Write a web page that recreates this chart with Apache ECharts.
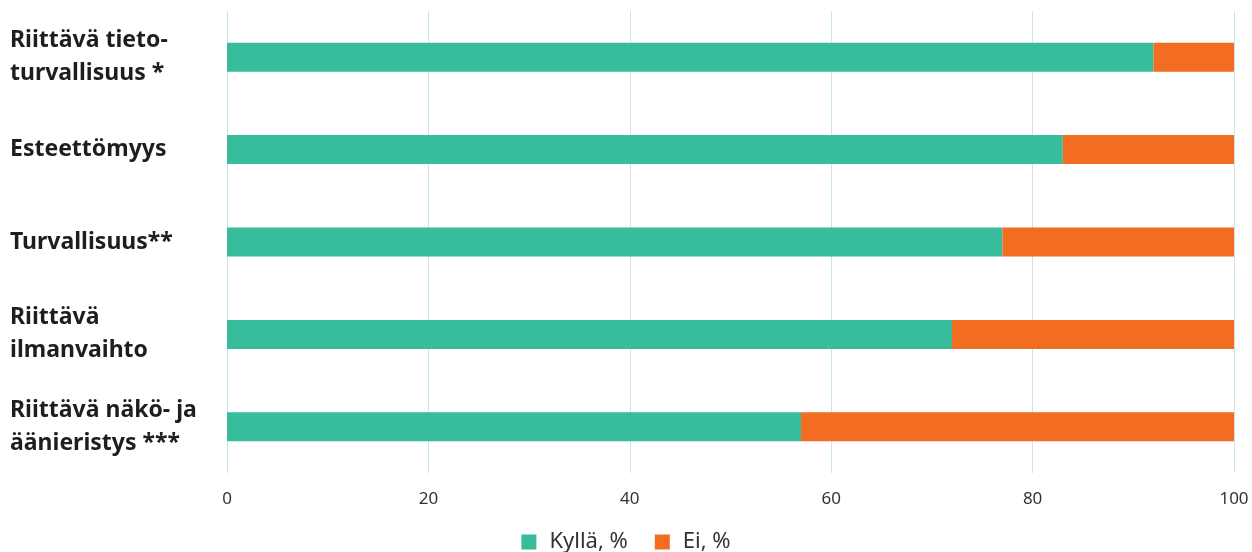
<!DOCTYPE html>
<html>
<head>
<meta charset="utf-8">
<script src="https://cdn.jsdelivr.net/npm/echarts@6/dist/echarts.min.js"></script>
<style>
  html, body { margin: 0; padding: 0; background: #fff; }
  #chart { width: 1252px; height: 552px; }
</style>
</head>
<body>
<div id="chart"></div>
<script>
var categories = [
  "Riittävä tieto-\nturvallisuus *",
  "Esteettömyys",
  "Turvallisuus**",
  "Riittävä\nilmanvaihto",
  "Riittävä näkö- ja\näänieristys ***"
];
var kyllaValues = [92, 83, 77, 72, 57];
var eiValues = [8, 17, 23, 28, 43];

var chart = echarts.init(document.getElementById("chart"));
window.addEventListener("resize", function () {
  chart.resize();
});

var option = {
  animation: false,
  textStyle: { fontFamily: "Noto Sans" },
  grid: {
    left: 227,
    right: 18,
    top: 11,
    bottom: 79
  },
  legend: {
    top: 526,
    left: "center",
    itemWidth: 15,
    itemHeight: 15,
    itemGap: 27,
    icon: "rect",
    textStyle: { fontSize: 22, color: "#333", fontFamily: "Noto Sans", padding: [0, 0, 0, 8] },
    data: ["Kyllä, %", "Ei, %"]
  },
  xAxis: {
    type: "value",
    min: 0,
    max: 100,
    interval: 20,
    axisLine: { show: false },
    axisTick: { show: false },
    splitLine: { lineStyle: { color: "#c6e8df", width: 1 } },
    axisLabel: { color: "#333", fontSize: 17, margin: 18 }
  },
  yAxis: {
    type: "category",
    inverse: true,
    data: categories,
    axisLine: { show: false },
    axisTick: { show: false },
    axisLabel: {
      align: "left",
      margin: 217,
      color: "#1e1e1e",
      fontSize: 23,
      fontWeight: "bold",
      lineHeight: 33
    }
  },
  series: [
    {
      name: "Kyllä, %",
      type: "bar",
      stack: "Total",
      barWidth: 29,
      itemStyle: { color: "#38bd9c" },
      data: kyllaValues
    },
    {
      name: "Ei, %",
      type: "bar",
      stack: "Total",
      barWidth: 29,
      itemStyle: { color: "#f26d21" },
      data: eiValues
    }
  ]
};
chart.setOption(option);
</script>
</body>
</html>
